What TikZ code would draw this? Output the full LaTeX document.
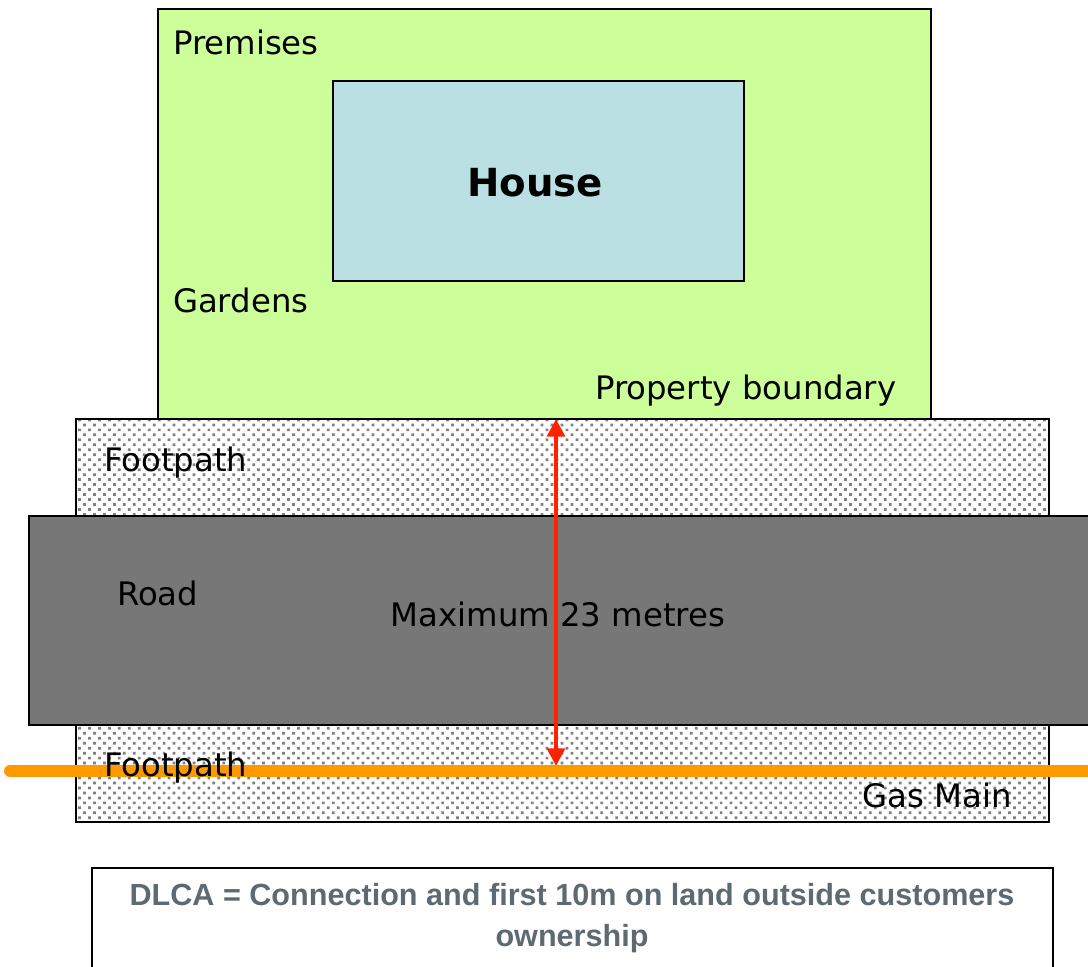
\documentclass[tikz,border=0pt]{standalone}
\usepackage{fontspec}
\setmainfont{DejaVu Sans}
\newfontfamily\notefont{Liberation Sans}
\usepackage{tikz}
\usetikzlibrary{arrows.meta, patterns.meta, positioning}
\usepackage{xcolor}
\definecolor{lawn}{RGB}{204,255,153}
\definecolor{roof}{RGB}{187,224,227}
\definecolor{tarmac}{RGB}{119,119,119}
\definecolor{measure}{RGB}{255,34,0}
\definecolor{gasline}{RGB}{255,153,0}
\definecolor{notegray}{RGB}{94,106,114}

\begin{document}
\begin{tikzpicture}[x=0.01cm,y=-0.01cm,font=\fontsize{9.2}{11}\selectfont,line width=0.6pt,
  paving/.style={draw=black, pattern={Dots[distance=2pt, angle=45, radius=0.55pt]}, pattern color=gray},
  lbl/.style={inner sep=0pt, anchor=west}]
\useasboundingbox (0,0) rectangle (1088,967);

% premises and house
\filldraw [fill=lawn] (158,9) rectangle (931,419);
\filldraw [fill=roof] (333,81) rectangle (744,281);
\node (house) at (535,183) {\fontsize{11}{13}\selectfont\bfseries House};
\node[lbl] (premises) at (172,42) {Premises};
\node[lbl] (gardens) at (172,300) {Gardens};
\node[lbl] (boundary) at (594,391) {Property boundary};

% footpaths and road
\draw [paving] (76,419) rectangle (1049,516);
\filldraw [fill=tarmac] (29,516) rectangle (1100,725);
\draw [paving] (76,725) rectangle (1049,822);
%\draw [paving] (76,725) -- (1049,725);

% gas main
\coordinate (mainW) at (10,771);
\coordinate (mainE) at (1100,771);
\draw [gasline, line width=3.4pt, line cap=round] (mainW) -- (mainE);

\node[lbl] (pathtop) at (103,463) {Footpath};
\node[lbl] (road) at (116,593) {Road};
\node[lbl] (pathbot) at (103,768) {Footpath};
\node[inner sep=0pt, anchor=east] (gas) at (1013,795) {Gas Main};
\node (maxlen) at (558,614) {Maximum 23 metres};

% distance from main to boundary
\coordinate (edge) at (556,419);
\coordinate (tap) at (556,766);
\draw [measure, line width=1.2pt, {Triangle[width=5pt,length=5pt]}-{Triangle[width=5pt,length=5pt]}] (edge) -- (tap);

% note
\draw (92,868) rectangle (1053,980);
\node[text width=9.4cm, align=flush center, text=notegray, font=\notefont\fontsize{8.7}{11.6}\selectfont\bfseries] (note) at (572,918) {DLCA = Connection and first 10m on land outside customers ownership};
\end{tikzpicture}
\end{document}
